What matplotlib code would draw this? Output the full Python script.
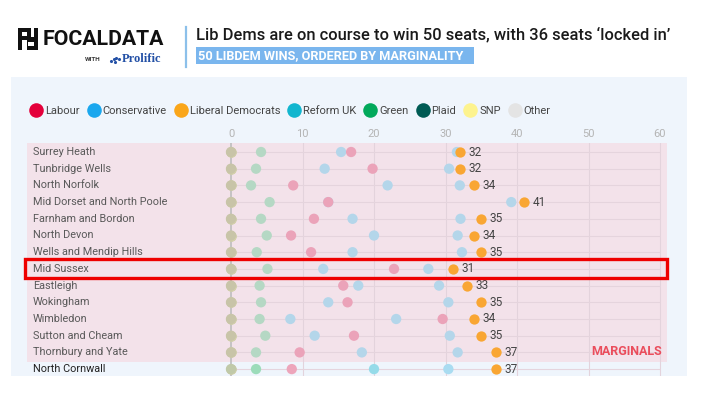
import matplotlib.pyplot as plt
from matplotlib.patches import Rectangle
from matplotlib.transforms import blended_transform_factory

plt.rcParams['font.family'] = ['Roboto', 'DejaVu Sans']

# data (vote share, %)
seats = ['Surrey Heath', 'Tunbridge Wells', 'North Norfolk', 'Mid Dorset and North Poole',
         'Farnham and Bordon', 'North Devon', 'Wells and Mendip Hills', 'Mid Sussex',
         'Eastleigh', 'Wokingham', 'Wimbledon', 'Sutton and Cheam', 'Thornbury and Yate',
         'North Cornwall']
n_marginal = 13
highlight = 'Mid Sussex'

labour = [16.8, 19.8, 8.7, 13.6, 11.6, 8.4, 11.2, 22.8, 15.7, 16.3, 29.6, 17.2, 9.6, 8.5]
conservative = [31.6, 30.5, 32.0, 39.2, 32.1, 31.7, 32.3, 27.6, 29.1, 30.4, 23.1, 30.6, 31.7, 30.4]
reform = [15.4, 13.1, 21.9, 13.6, 17.0, 20.0, 17.0, 12.9, 17.8, 13.6, 8.3, 11.7, 18.3, 20.0]
green = [4.2, 3.5, 2.8, 5.4, 4.2, 5.0, 3.6, 5.1, 4.0, 4.2, 4.0, 4.8, 3.5, 3.5]
libdem = [32, 32, 34, 41, 35, 34, 35, 31, 33, 35, 34, 35, 37, 37]
plaid = [0] * 14
snp = [0] * 14
other = [0] * 14

ticks = [0, 10, 20, 30, 40, 50, 60]

parties = ['Labour', 'Conservative', 'Liberal Democrats', 'Reform UK', 'Green', 'Plaid', 'SNP', 'Other']
colors = ['#e4003b', '#1aa7ee', '#faa61a', '#12b6cf', '#02a95b', '#005b54', '#fdf38e', '#e4e4e4']
# faded look of the non-LD dots (marginal rows, other rows)
faded = {'Labour': ('#eba3b9', '#eda5bb'), 'Conservative': ('#b4d6ea', '#a9dcf1'),
         'Reform UK': ('#b4d6ea', '#95dbe9'), 'Green': ('#b5d8c4', '#9cdcba'),
         'Other': ('#c8c4a8', '#c0c9a9')}

W, H = 704, 396
fig = plt.figure(figsize=(W / 100, H / 100), dpi=100)
fig.patch.set_facecolor('white')

# background / header layer in pixel coordinates
bg = fig.add_axes([0, 0, 1, 1], zorder=0)
bg.set_xlim(0, W)
bg.set_ylim(H, 0)
bg.axis('off')
bg.add_patch(Rectangle((11, 77), 676, 376 - 77, color='#eff5fc', lw=0))

# logo
bg.add_patch(Rectangle((18, 28), 20, 22, color='#111111', lw=0))
for (x0, y0, w, h) in [(22, 32, 5, 4), (22, 40, 5, 10), (31, 28, 3, 9), (28, 42, 6, 4)]:
    bg.add_patch(Rectangle((x0, y0), w, h, color='white', lw=0))
bg.text(43, 39.5, 'FOCALDATA', fontsize=15.3, fontweight='bold', color='#111111', va='center')
bg.text(85, 59.5, 'WITH', fontsize=4.5, fontweight='bold', color='#333333', va='center')
bg.scatter([111, 113.5, 116, 118.5, 114.8], [61, 58.5, 57.5, 58.5, 61.5], s=5, color='#2451a6', lw=0)
bg.text(122, 59.5, 'Prolific', fontsize=9, fontweight='bold', color='#2451a6', va='center',
        family='Liberation Serif')
bg.plot([186, 186], [27, 67], color='#8cc0ea', lw=1.6)

bg.text(196, 35, 'Lib Dems are on course to win 50 seats, with 36 seats \u2018locked in\u2019',
        fontsize=11.9, fontweight='medium', color='#1a1a1a', va='center')
bg.add_patch(Rectangle((196, 47), 278, 17, color='#7ab6ee', lw=0))
bg.text(198.5, 55.8, '50 LIBDEM WINS, ORDERED BY MARGINALITY', fontsize=9.2, fontweight='bold',
        color='white', va='center')

# legend
fig.canvas.draw()
renderer = fig.canvas.get_renderer()
x = 36
for name, col in zip(parties, colors):
    bg.scatter([x], [110], s=110, color=col, lw=0, zorder=3)
    t = bg.text(x + 9, 110.5, name, fontsize=8, color='#444444', va='center')
    bb = t.get_window_extent(renderer)
    x = bb.x1 + 14

# main plot
ax = fig.add_axes([27 / W, (H - 376) / H, 640 / W, (376 - 143) / H], zorder=1)
ax.patch.set_alpha(0)
ppu = 7.15
ax.set_xlim((27 - 231) / ppu, (667 - 231) / ppu)
ax.set_ylim((376 - 152) / 16.7, -9 / 16.7)
for s in ax.spines.values():
    s.set_visible(False)
ax.xaxis.tick_top()
ax.set_xticks(ticks)
ax.tick_params(axis='x', length=0, labelsize=8, labelcolor='#b4b4b4', pad=3)
ax.set_yticks([])

rows = list(range(len(seats)))
ax.axhspan(-9 / 16.7, n_marginal - 0.45, color='#f3e2ea', lw=0, zorder=0)
for t in ticks[1:]:
    ax.axvline(t, color='#e3d3dc', lw=0.8, zorder=1)
ax.axvline(0, color='#bdbdbd', lw=1.2, zorder=1)
ax.hlines(rows, 0, 60, color='#e5d4dd', lw=0.8, zorder=1)


def fade(party):
    return [faded[party][0] if i < n_marginal else faded[party][1] for i in rows]


ms = 55
ax.scatter(plaid, rows, s=ms, color='#b9c0a6', lw=0, zorder=3)
ax.scatter(snp, rows, s=ms, color='#d8d3a8', lw=0, zorder=3)
ax.scatter(other, rows, s=ms, c=fade('Other'), lw=0, zorder=3)
ax.scatter(green, rows, s=ms, c=fade('Green'), lw=0, zorder=3)
ax.scatter(reform, rows, s=ms, c=fade('Reform UK'), lw=0, zorder=3)
ax.scatter(conservative, rows, s=ms, c=fade('Conservative'), lw=0, zorder=3)
ax.scatter(labour, rows, s=ms, c=fade('Labour'), lw=0, zorder=3)
ax.scatter(libdem, rows, s=ms, color='#f9a633', lw=0, zorder=4)
for i, v in enumerate(libdem):
    ax.text(v + 1.2, i, str(v), va='center', ha='left', fontsize=8.5, color='#444444')

trans = blended_transform_factory(fig.transFigure, ax.transData)
for i, name in enumerate(seats):
    ax.text(33 / W, i, name, transform=trans, va='center', fontsize=7.8,
            color='#595959' if i < n_marginal else '#222222')
ax.text(662 / W, 11.92, 'MARGINALS', transform=trans, ha='right', va='center',
        fontsize=9, fontweight='bold', color='#ea4d5c')

# highlight box
fg = fig.add_axes([0, 0, 1, 1], zorder=2)
fg.set_xlim(0, W)
fg.set_ylim(H, 0)
fg.axis('off')
fg.patch.set_alpha(0)
k = seats.index(highlight)
yc = 152 + k * 16.7
fg.add_patch(Rectangle((24.5, yc - 9.5), 642, 19, fill=False, ec='#ee0000', lw=2.4))

fig.savefig('out.png', dpi=100)
